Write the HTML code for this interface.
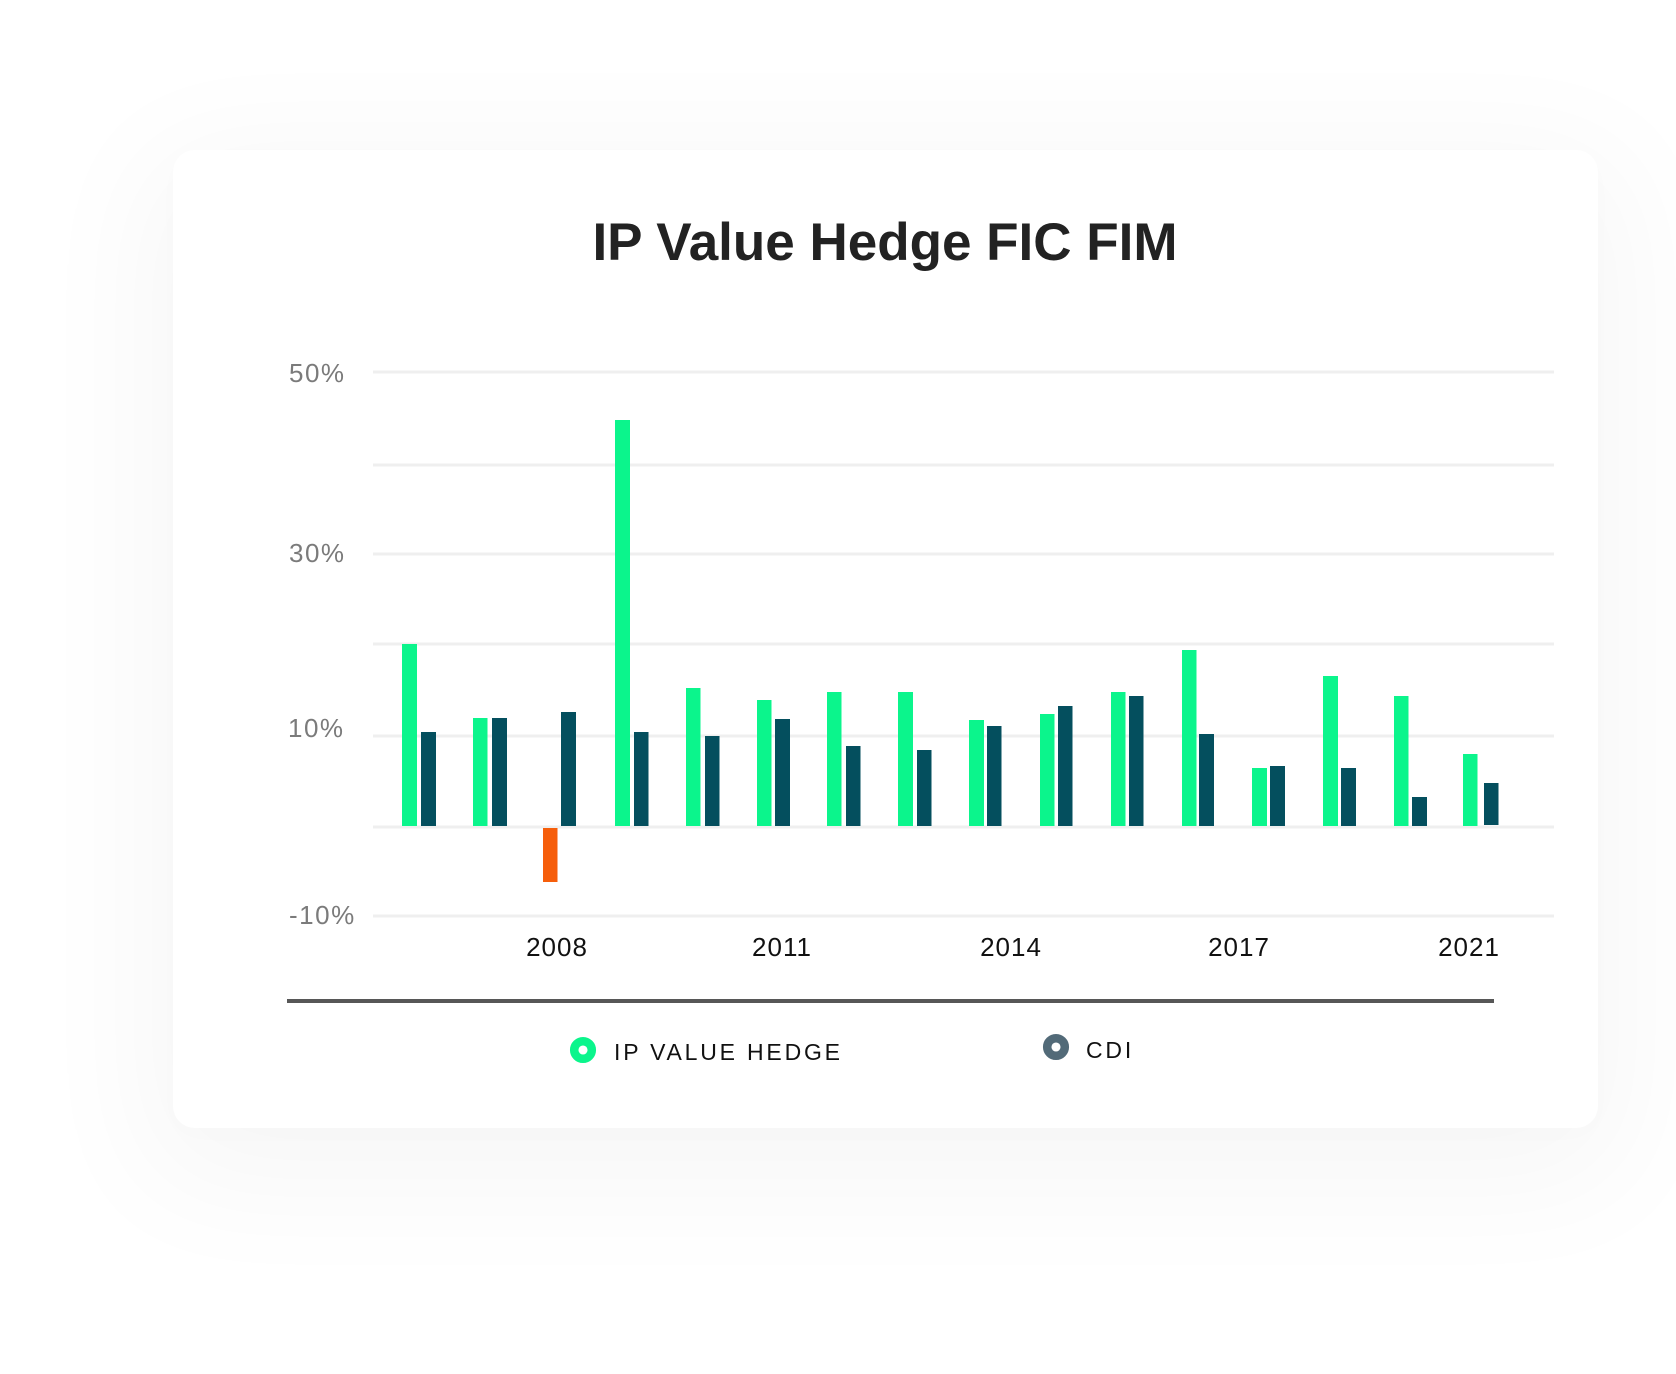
<!DOCTYPE html>
<html>
<head>
<meta charset="utf-8">
<style>
  html, body { margin:0; padding:0; background:#ffffff; }
  body { width:1676px; height:1374px; position:relative; overflow:hidden; }
  .card {
    position:absolute; left:173px; top:150px; width:1425px; height:978px;
    background:#ffffff; border-radius:22px;
    box-shadow: 0 30px 130px 30px rgba(0,0,0,0.035), 0 6px 30px rgba(0,0,0,0.012);
  }
  svg { position:absolute; left:0; top:0; }
  text { font-family:"Liberation Sans", Arial, sans-serif; }
</style>
</head>
<body>
<div class="card"></div>
<svg width="1676" height="1374" viewBox="0 0 1676 1374" xmlns="http://www.w3.org/2000/svg">
  <!-- Title -->
  <text x="885" y="260" text-anchor="middle" font-size="53" font-weight="bold" fill="#222222">IP Value Hedge FIC FIM</text>

  <!-- Gridlines -->
  <g stroke="#efefef" stroke-width="3">
    <line x1="373" y1="372" x2="1554" y2="372"/>
    <line x1="373" y1="465" x2="1554" y2="465"/>
    <line x1="373" y1="554" x2="1554" y2="554"/>
    <line x1="373" y1="644" x2="1554" y2="644"/>
    <line x1="373" y1="736" x2="1554" y2="736"/>
    <line x1="373" y1="827" x2="1554" y2="827"/>
    <line x1="373" y1="916" x2="1554" y2="916"/>
  </g>

  <!-- Y labels -->
  <g font-size="26" fill="#7b7b7b" style="letter-spacing:1.5px">
    <text x="289" y="382">50%</text>
    <text x="289" y="562">30%</text>
    <text x="288" y="737">10%</text>
    <text x="289" y="924">-10%</text>
  </g>

  <!-- Bars: IP Value Hedge -->
  <g fill="#0bf58c">
    <rect x="402" y="644" width="15" height="182"/>
    <rect x="473" y="718" width="14.5" height="108"/>
    <rect x="615" y="420" width="15" height="406"/>
    <rect x="686" y="688" width="14.5" height="138"/>
    <rect x="757" y="700" width="14.5" height="126"/>
    <rect x="827" y="692" width="14.5" height="134"/>
    <rect x="898" y="692" width="15" height="134"/>
    <rect x="969" y="720" width="15" height="106"/>
    <rect x="1040" y="714" width="14.5" height="112"/>
    <rect x="1111" y="692" width="14.5" height="134"/>
    <rect x="1182" y="650" width="14.5" height="176"/>
    <rect x="1252" y="768" width="15" height="58"/>
    <rect x="1323" y="676" width="15" height="150"/>
    <rect x="1394" y="696" width="14.5" height="130"/>
    <rect x="1463" y="754" width="14.5" height="72"/>
  </g>
  <!-- Negative bar -->
  <rect x="543" y="828" width="14.5" height="54" fill="#f65e0b"/>

  <!-- Bars: CDI -->
  <g fill="#044f5e">
    <rect x="421" y="732" width="15" height="94"/>
    <rect x="492" y="718" width="15" height="108"/>
    <rect x="561" y="712" width="15" height="114"/>
    <rect x="634" y="732" width="14.5" height="94"/>
    <rect x="705" y="736" width="14.5" height="90"/>
    <rect x="775" y="719" width="15" height="107"/>
    <rect x="846" y="746" width="14.5" height="80"/>
    <rect x="917" y="750" width="14.5" height="76"/>
    <rect x="987" y="726" width="14.5" height="100"/>
    <rect x="1058" y="706" width="14.5" height="120"/>
    <rect x="1129" y="696" width="14.5" height="130"/>
    <rect x="1199" y="734" width="15" height="92"/>
    <rect x="1270" y="766" width="15" height="60"/>
    <rect x="1341" y="768" width="15" height="58"/>
    <rect x="1412" y="797" width="15" height="29"/>
    <rect x="1484" y="783" width="14.5" height="42"/>
  </g>

  <!-- X labels -->
  <g font-size="26" fill="#111111" text-anchor="middle" style="letter-spacing:1px">
    <text x="557" y="956">2008</text>
    <text x="782" y="956">2011</text>
    <text x="1011" y="956">2014</text>
    <text x="1239" y="956">2017</text>
    <text x="1469" y="956">2021</text>
  </g>

  <!-- Separator -->
  <rect x="287" y="999" width="1207" height="4" fill="#575757"/>

  <!-- Legend -->
  <circle cx="583" cy="1050" r="8.8" fill="#ffffff" stroke="#0bf58c" stroke-width="8.5"/>
  <text x="614" y="1060" font-size="23" fill="#111111" style="letter-spacing:2.8px">IP VALUE HEDGE</text>
  <circle cx="1056" cy="1047" r="8.8" fill="#ffffff" stroke="#526a78" stroke-width="8.5"/>
  <text x="1086" y="1058" font-size="23" fill="#111111" style="letter-spacing:2.8px">CDI</text>
</svg>
</body>
</html>
